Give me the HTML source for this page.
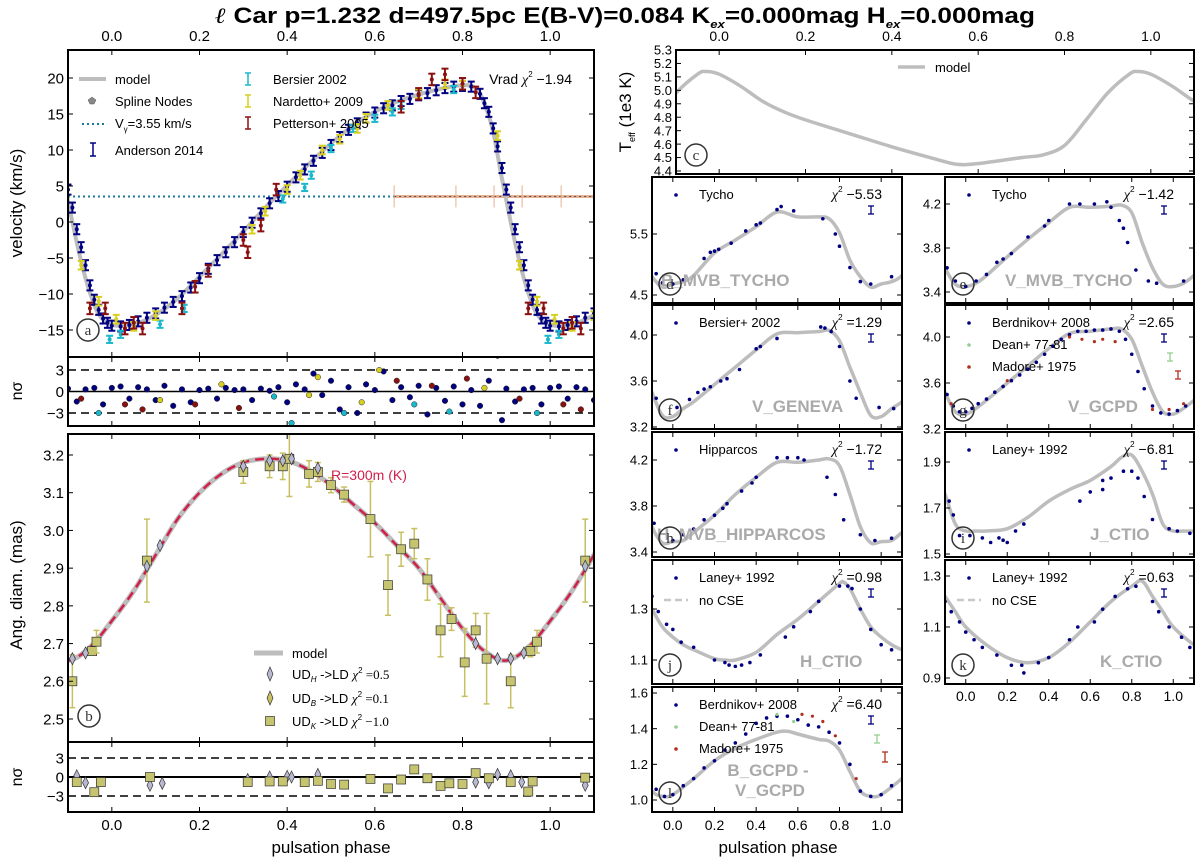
<!DOCTYPE html>
<html><head><meta charset="utf-8">
<style>
html,body{margin:0;padding:0;background:#fff;}
svg{display:block;font-family:"Liberation Sans",sans-serif;}
</style></head>
<body>
<svg id="chart" width="1200" height="863" viewBox="0 0 1200 863" xmlns="http://www.w3.org/2000/svg">
<text x="625" y="23" text-anchor="middle" font-size="22" font-weight="bold" textLength="820" lengthAdjust="spacingAndGlyphs"><tspan font-family="Liberation Serif" font-style="italic">ℓ</tspan> Car p=1.232 d=497.5pc E(B-V)=0.084 K<tspan font-size="11" dy="5" font-style="italic">ex</tspan><tspan dy="-5">=0.000mag H</tspan><tspan font-size="11" dy="5" font-style="italic">ex</tspan><tspan dy="-5">=0.000mag</tspan></text>
</svg>
<script>
// ---------- DATA ----------
const xTickVals=[0,0.2,0.4,0.6,0.8,1.0];
const xTickLabels=['0.0','0.2','0.4','0.6','0.8','1.0'];
const velPhase=[0,0.05,0.1,0.15,0.2,0.25,0.3,0.35,0.4,0.45,0.5,0.55,0.6,0.65,0.7,0.75,0.8,0.83,0.85,0.87,0.89,0.91,0.93,0.95,0.97];
const velModel=[-14.3,-14.2,-12.9,-10.6,-7.6,-4.5,-1.3,2,5.1,8.1,10.9,13.4,15.3,16.7,17.7,18.5,19,18.6,16.5,12.5,6,0,-5.5,-9.8,-12.8];
const andPh=[0.00,0.02,0.04,0.06,0.08,0.10,0.12,0.14,0.16,0.18,0.20,0.22,0.24,0.26,0.28,0.30,0.32,0.34,0.36,0.38,0.40,0.42,0.44,0.46,0.48,0.50,0.52,0.54,0.56,0.58,0.60,0.62,0.64,0.66,0.68,0.70,0.72,0.74,0.76,0.78,0.80,0.82,0.84,0.85,0.86,0.87,0.88,0.89,0.90,0.91,0.92,0.93,0.94,0.95,0.96,0.97,0.98,0.99];
const andV=[-14.4,-14.5,-14.3,-13.8,-13.3,-12.7,-11.9,-11.1,-10.3,-9.1,-7.8,-6.5,-5.3,-4.2,-2.8,-1.4,-0.1,1.2,2.6,3.6,4.9,6.2,7.3,8.5,9.6,10.7,11.8,12.8,13.7,14.5,15.2,15.8,16.2,16.8,17.1,17.6,17.9,18.3,18.6,18.8,18.9,18.8,17.8,16.5,15.3,13,10.5,7.5,4.5,2,-1,-3.5,-6,-8.8,-10.8,-12.2,-13.4,-14];
const bersPh=[0.995,0.02,0.11,0.165,0.39,0.44,0.455,0.5,0.55,0.6,0.64,0.66,0.78];
const bersV=[-16.3,-15.6,-14.2,-12,3.2,4.8,6.5,10.2,13,14.4,15.3,16.2,18.4];
const nardPh=[0.93,0.97,0.01,0.05,0.1,0.32,0.35,0.4,0.43,0.48,0.52,0.56,0.58,0.63,0.7,0.76,0.8,0.88];
const nardV=[-6,-11,-13.5,-14.5,-13,-1,1.5,4.5,6.5,10,11.5,13,14.4,16.2,17.8,19.2,19,12];
const pettPh=[0.985,0.05,0.07,0.16,0.19,0.22,0.3,0.31,0.34,0.375,0.66,0.70,0.73,0.76,0.8,0.83,0.95,0.03];
const pettV=[-12,-14,-14.8,-12,-9,-6.8,-2.5,-4.2,-0.5,4.5,16,17.8,19.8,20.5,19.2,18,-12,-14.8];
const vGamma=[3.55];
const vgPh=[0.644,0.785,0.872,0.936,1.025];
const resPh=[0.0,0.02,0.04,0.06,0.08,0.1,0.12,0.14,0.16,0.18,0.2,0.22,0.24,0.26,0.28,0.3,0.32,0.34,0.36,0.38,0.4,0.42,0.44,0.46,0.48,0.5,0.52,0.54,0.56,0.58,0.6,0.62,0.64,0.66,0.68,0.7,0.72,0.74,0.76,0.78,0.8,0.82,0.84,0.86,0.88,0.9,0.92,0.94,0.96,0.98,0.03,0.07,0.11,0.19,0.25,0.29,0.37,0.41,0.45,0.47,0.53,0.57,0.61,0.65,0.69,0.73,0.77,0.81,0.85,0.89,0.93,0.97];
const resVal=[0.5,0.7,-1,0.6,0.3,-1.2,0.8,-2,0.3,-1.5,0.2,0.4,-1,0.5,0.2,0.3,-1.2,0.4,0.1,0.6,-1.5,1,0.3,2.5,-0.5,1.5,-2.5,0.6,-3,1,0.2,2.8,-1.2,0.6,-0.8,0.8,-3.2,0.5,-1.3,0.7,-1.8,0.2,-2,1.5,5,0.4,-1.4,0.3,0.5,-1.8,-1.8,-2.5,-1.2,-1.8,1,-2.3,-0.7,-4.4,-0.5,2,-3,-1.5,3,1.5,-1.8,0.8,-2.8,1.8,0.5,-4,-1,-3];
const resSrc=[0,0,0,0,0,0,0,0,0,0,0,0,0,0,0,0,0,0,0,0,0,0,0,0,0,0,0,0,0,0,0,0,0,0,0,0,0,0,0,0,0,0,0,0,0,0,0,0,0,0,3,3,2,3,2,3,1,1,2,2,1,2,2,3,1,3,1,3,2,0,3,1];
const diamPhase=[0,0.05,0.1,0.15,0.2,0.25,0.3,0.35,0.4,0.45,0.5,0.55,0.6,0.65,0.7,0.75,0.8,0.85,0.9,0.95];
const diamModel=[2.76,2.84,2.935,3.03,3.1,3.15,3.18,3.19,3.185,3.16,3.12,3.07,3.02,2.96,2.9,2.82,2.74,2.68,2.655,2.69];
const kPh=[-0.09,-0.045,-0.035,0.08,0.3,0.36,0.39,0.45,0.47,0.5,0.53,0.59,0.63,0.66,0.69,0.72,0.75,0.775,0.805,0.83,0.855,0.91,0.955,0.97,1.08,0.405];
const kVal=[2.60,2.68,2.705,2.92,3.155,3.17,3.17,3.15,3.155,3.12,3.095,3.03,2.855,2.95,2.965,2.87,2.735,2.765,2.65,2.735,2.66,2.60,2.68,2.705,2.92,3.19];
const kErr=[0.07,0.01,0.03,0.11,0.03,0.03,0.035,0.035,0.025,0.02,0.02,0.1,0.08,0.045,0.04,0.055,0.07,0.03,0.09,0.045,0.12,0.07,0.015,0.03,0.11,0.1];
const hPh=[-0.09,-0.06,0.08,0.11,0.3,0.36,0.39,0.41,0.47,0.83,0.88,0.91,0.94,1.08];
const hVal=[2.66,2.675,2.905,2.96,3.17,3.185,3.185,3.19,3.165,2.70,2.66,2.66,2.675,2.905];
const rbKPh=[-0.08,-0.04,-0.025,0.087,0.31,0.36,0.39,0.44,0.47,0.5,0.53,0.59,0.63,0.66,0.69,0.72,0.75,0.77,0.8,0.83,0.86,0.91,0.95,0.96,1.08];
const rbKVal=[-0.8,-2.4,-0.8,0,-0.8,-0.7,-0.7,-0.8,-0.6,-1.1,-1.2,-0.3,-1.8,-0.4,1.2,-0.2,-1.4,-1,-1.1,0.6,-0.2,-0.8,-2.3,-0.7,-0.1];
const rbHPh=[-0.08,-0.06,0.087,0.115,0.31,0.36,0.40,0.41,0.47,0.83,0.86,0.88,0.91,0.935,1.08];
const rbHVal=[0.2,-0.9,-1.3,-1,-0.4,0,0.1,0,0.4,-0.8,-0.9,0.4,0.2,-0.8,-1.3];
const teffPhase=[0,0.05,0.1,0.15,0.2,0.3,0.4,0.5,0.55,0.6,0.7,0.75,0.8,0.85,0.9,0.95,0.97];
const teffModel=[5.12,5.03,4.92,4.84,4.78,4.68,4.58,4.49,4.45,4.455,4.5,4.52,4.59,4.78,4.98,5.12,5.14];
const lcPhase=[0,0.05,0.1,0.2,0.3,0.4,0.5,0.6,0.7,0.75,0.8,0.85,0.9,0.95];
const dModel=[4.68,4.72,4.82,5.19,5.4,5.62,5.86,5.78,5.78,5.75,5.52,5.07,4.8,4.63];
const eModel=[3.45,3.48,3.55,3.72,3.88,4.03,4.17,4.17,4.18,4.19,4.12,3.85,3.62,3.47];
const fModel=[3.29,3.36,3.42,3.57,3.72,3.87,4.01,4.02,4.03,4.04,3.95,3.72,3.5,3.3];
const gModel=[3.33,3.38,3.45,3.6,3.75,3.9,4.03,4.05,4.07,4.07,3.98,3.75,3.52,3.35];
const hModel=[3.49,3.5,3.57,3.72,3.9,4.05,4.18,4.18,4.2,4.21,4.15,3.9,3.62,3.48];
const iModel=[1.6,1.6,1.6,1.61,1.66,1.73,1.78,1.82,1.88,1.92,1.93,1.86,1.76,1.63];
const jPhase=[0,0.05,0.1,0.2,0.25,0.3,0.4,0.5,0.6,0.7,0.8,0.82,0.85,0.9,0.95];
const jModel=[1.19,1.16,1.14,1.105,1.1,1.1,1.13,1.2,1.26,1.33,1.4,1.405,1.38,1.3,1.23];
const kPhase=[0,0.1,0.2,0.3,0.4,0.5,0.6,0.7,0.8,0.85,0.9,0.95];
const kModel=[1.1,1.03,0.98,0.96,0.98,1.04,1.12,1.2,1.26,1.28,1.22,1.16];
const lPhase=[0,0.1,0.2,0.3,0.4,0.5,0.55,0.6,0.7,0.75,0.8,0.85,0.9,0.95];
const lModel=[1.03,1.12,1.22,1.29,1.34,1.38,1.385,1.37,1.34,1.33,1.28,1.16,1.05,1.02];
const dObsPh=[-0.08,-0.05,0.0,0.05,0.15,0.18,0.2,0.22,0.28,0.35,0.4,0.42,0.5,0.52,0.58,0.72,0.78,0.8,0.85,0.9,0.95,1.05];
const dObsV=[4.85,4.7,4.68,4.75,5.1,5.2,5.22,5.25,5.35,5.55,5.65,5.68,5.9,5.95,5.88,5.75,5.5,5.3,4.95,4.72,4.68,4.8];
const eObsPh=[-0.09,-0.05,0.0,0.05,0.1,0.15,0.18,0.22,0.3,0.38,0.4,0.5,0.55,0.62,0.68,0.7,0.74,0.76,0.78,0.82,0.88,0.92,1.05];
const eObsV=[3.62,3.5,3.45,3.5,3.56,3.67,3.7,3.75,3.9,4.0,4.05,4.2,4.2,4.2,4.22,4.17,4.05,3.98,3.85,3.6,3.5,3.48,3.5];
const fObsPh=[-0.08,0.02,0.08,0.12,0.15,0.18,0.23,0.26,0.32,0.4,0.42,0.5,0.71,0.73,0.76,0.8,0.85,0.88,0.99,1.06];
const fObsV=[3.45,3.37,3.44,3.5,3.53,3.55,3.6,3.62,3.7,3.88,3.9,3.97,4.07,4.06,4.03,3.9,3.6,3.45,3.37,3.36];
const gObsPh=[-0.09,-0.06,-0.03,0,0.03,0.06,0.1,0.14,0.18,0.22,0.26,0.3,0.34,0.38,0.42,0.46,0.5,0.54,0.58,0.62,0.66,0.7,0.74,0.77,0.8,0.83,0.86,0.9,0.94,0.98,1.02,1.06];
const gObsV=[3.5,3.4,3.35,3.35,3.38,3.42,3.46,3.52,3.57,3.62,3.67,3.72,3.78,3.85,3.92,3.98,4.02,4.05,4.05,4.06,4.06,4.07,4.05,3.98,3.85,3.7,3.55,3.4,3.34,3.33,3.36,3.4];
const gRedPh=[-0.07,0.2,0.5,0.56,0.62,0.66,0.72,0.9,0.98,1.05];
const gRedV=[3.42,3.62,4.0,3.98,3.96,3.98,3.96,3.37,3.37,3.42];
const hObsPh=[-0.09,0.0,0.05,0.1,0.15,0.2,0.24,0.26,0.33,0.38,0.4,0.5,0.55,0.6,0.63,0.74,0.78,0.82,0.9,0.97,1.05];
const hObsV=[3.65,3.5,3.55,3.6,3.68,3.72,3.78,3.82,3.93,4.0,4.05,4.22,4.22,4.22,4.2,4.05,3.9,3.68,3.55,3.5,3.52];
const iObsPh=[-0.08,-0.06,-0.03,0.02,0.08,0.12,0.16,0.18,0.2,0.24,0.28,0.55,0.6,0.66,0.66,0.7,0.76,0.8,0.83,0.86,0.9,0.98,1.02,1.08];
const iObsV=[1.73,1.67,1.58,1.58,1.57,1.55,1.57,1.56,1.55,1.6,1.63,1.73,1.77,1.78,1.82,1.83,1.86,1.86,1.83,1.75,1.65,1.61,1.6,1.59];
const jObsPh=[-0.1,-0.07,-0.03,0,0.04,0.1,0.2,0.25,0.27,0.3,0.33,0.37,0.42,0.54,0.58,0.66,0.7,0.8,0.84,0.86,0.9,0.95,1.0,1.05];
const jObsV=[1.35,1.29,1.24,1.22,1.17,1.15,1.1,1.09,1.08,1.075,1.08,1.09,1.12,1.19,1.23,1.29,1.33,1.39,1.39,1.38,1.3,1.22,1.16,1.14];
const kObsPh=[-0.1,-0.07,-0.03,0,0.04,0.08,0.15,0.22,0.27,0.28,0.35,0.4,0.5,0.54,0.62,0.66,0.72,0.78,0.82,0.9,0.93,0.98,1.04,1.08];
const kObsV=[1.2,1.16,1.12,1.08,1.05,1.02,0.99,0.95,0.95,0.92,0.96,0.98,1.05,1.1,1.12,1.17,1.22,1.25,1.26,1.2,1.16,1.1,1.06,1.02];
const lObsPh=[-0.08,-0.04,0.0,0.05,0.1,0.15,0.2,0.25,0.3,0.35,0.4,0.45,0.5,0.55,0.6,0.65,0.7,0.75,0.8,0.85,0.9,0.95,1.0,1.05];
const lObsV=[1.06,1.02,1.03,1.08,1.12,1.18,1.22,1.28,1.32,1.37,1.43,1.46,1.47,1.47,1.45,1.42,1.41,1.38,1.32,1.2,1.05,1.02,1.03,1.08];
const lRedPh=[0.62,0.67,0.72,0.78,0.88];
const lRedV=[1.48,1.47,1.44,1.36,1.12];
const lGreenPh=[0.5,0.58];
const lGreenV=[1.48,1.44];

// ---------- DRAWING ----------
const NS='http://www.w3.org/2000/svg';
const root=document.getElementById('chart');
function el(tag,attrs,parent){const e=document.createElementNS(NS,tag);for(const k in attrs)e.setAttribute(k,attrs[k]);(parent||root).appendChild(e);return e;}
function txt(s,attrs,parent){const t=el('text',attrs,parent);t.textContent=s;return t;}
const NAVY='#000080',CYAN='#1ab8cc',YEL='#d8d020',DRED='#8b1010',GREY='#bdbdbd';
const srcCol=[NAVY,CYAN,YEL,DRED];

function makePanel(name,x0,x1,y0,y1,vA,yA,vB,yB){
  const g=el('g',{});
  
  
  const id='clip-'+name;
  const cp=el('clipPath',{id:id},g);
  el('rect',{x:x0,y:y0,width:x1-x0,height:y1-y0},cp);
  const inner=el('g',{'clip-path':'url(#'+id+')'},g);
  return {g,inner,x0,x1,y0,y1,
    sx:p=>x0+(p+0.1)/1.2*(x1-x0),
    sy:v=>yA+(v-vA)*(yB-yA)/(vB-vA)};
}
function frame(P){
  const r=el('rect',{x:P.x0,y:P.y0,width:P.x1-P.x0,height:P.y1-P.y0,fill:'none',stroke:'#000','stroke-width':2},P.g);
  
  
}
function xticks(P,labelY,fs){
  xTickVals.forEach((t,i)=>{
    const x=P.sx(t);
    el('line',{x1:x,x2:x,y1:P.y1,y2:P.y1-5,stroke:'#000','stroke-width':1},P.g);
    el('line',{x1:x,x2:x,y1:P.y0,y2:P.y0+5,stroke:'#000','stroke-width':1},P.g);
    if(labelY){
      const t2=txt(xTickLabels[i],{x:x,y:labelY,'text-anchor':'middle','font-size':fs},P.g);
      
      
    }
  });
}
function yticks(P,vals,labels,fs){
  vals.forEach((v,i)=>{
    const y=P.sy(v);
    el('line',{x1:P.x0,x2:P.x0+5,y1:y,y2:y,stroke:'#000','stroke-width':1},P.g);
    el('line',{x1:P.x1,x2:P.x1-5,y1:y,y2:y,stroke:'#000','stroke-width':1},P.g);
    const t=txt(labels[i],{x:P.x0-4,y:y+fs*0.36,'text-anchor':'end','font-size':fs},P.g);
    
    
  });
}
function wrapPts(ph,vals){
  const pts=[];
  for(let k=-1;k<=1;k++)for(let i=0;i<ph.length;i++){const p=ph[i]+k;if(p>=-0.3&&p<=1.3)pts.push([p,vals[i]]);}
  pts.sort((a,b)=>a[0]-b[0]);return pts;
}
function model(P,ph,vals,color,w,dash,name){
  const pts=wrapPts(ph,vals).map(q=>[P.sx(q[0]),P.sy(q[1])]);
  let d='M'+pts[0][0].toFixed(1)+','+pts[0][1].toFixed(1);
  for(let i=0;i<pts.length-1;i++){
    const p0=pts[Math.max(0,i-1)],p1=pts[i],p2=pts[i+1],p3=pts[Math.min(pts.length-1,i+2)];
    const c1=[p1[0]+(p2[0]-p0[0])/6,p1[1]+(p2[1]-p0[1])/6];
    const c2=[p2[0]-(p3[0]-p1[0])/6,p2[1]-(p3[1]-p1[1])/6];
    d+=' C'+c1[0].toFixed(1)+','+c1[1].toFixed(1)+' '+c2[0].toFixed(1)+','+c2[1].toFixed(1)+' '+p2[0].toFixed(1)+','+p2[1].toFixed(1);
  }
  const a={d:d,fill:'none',stroke:color,'stroke-width':w,'stroke-linejoin':'round'};
  if(dash)a['stroke-dasharray']=dash;
  const p=el('path',a,P.inner);
  
  
}
function dots(P,ph,vals,color,r,name){
  ph.forEach((p,i)=>{
    const c=el('circle',{cx:P.sx(p),cy:P.sy(vals[i]),r:r,fill:color},P.inner);
    
    
  });
}
function errPts(P,ph,vals,err,color,name){
  wrapPts(ph,vals).forEach(q=>{
    const x=P.sx(q[0]),y1=P.sy(q[1]-err),y2=P.sy(q[1]+err);
    const g=el('g',{stroke:color,'stroke-width':2},P.inner);
    
    
    el('line',{x1:x,x2:x,y1:y1,y2:y2},g);
    el('line',{x1:x-3.5,x2:x+3.5,y1:y1,y2:y1},g);
    el('line',{x1:x-3.5,x2:x+3.5,y1:y2,y2:y2},g);
    el('circle',{cx:x,cy:P.sy(q[1]),r:2,fill:color,stroke:'none'},g);
  });
}
function letter(P,x,y,s){
  const g=el('g',{},P.g);
  
  
  el('circle',{cx:x,cy:y,r:11,fill:'none',stroke:'#333','stroke-width':1.5},g);
  txt(s,{x:x,y:y+5,'text-anchor':'middle','font-size':15,'font-family':'Liberation Serif, serif',fill:'#333'},g);
}
function ylabel(s,x,y,fs,name){
  const t=txt(s,{x:x,y:y,'text-anchor':'middle','font-size':fs,transform:'rotate(-90 '+x+' '+y+')'});
  
  
  return t;
}
function chi(P,x,y,val,fs){
  const t=el('text',{x:x,y:y,'text-anchor':'end','font-size':fs},P.g);
  
  
  const a=el('tspan',{'font-family':'Liberation Serif, serif','font-style':'italic'},t);a.textContent='χ';
  const b=el('tspan',{'font-size':fs*0.6,dy:-7},t);b.textContent='2';
  const c=el('tspan',{dy:7},t);c.textContent=' '+val;
}
function legendDot(P,x,y,color,label,fs){
  const c=el('circle',{cx:x,cy:y-4,r:1.8,fill:color},P.g);
  
  
  const t=txt(label,{x:x+23,y:y,'font-size':fs},P.g);
  
  
}
function filterName(P,x,y,s,anchor){
  const t=txt(s,{x:x,y:y,'font-size':17,'font-weight':'bold',fill:'#aaaaaa','text-anchor':anchor||'start'},P.g);
  
  
}
function errMark(P,x,y,h,color){
  const g=el('g',{stroke:color,'stroke-width':1.3},P.g);
  
  
  el('line',{x1:x,x2:x,y1:y-h,y2:y+h},g);
  el('line',{x1:x-3,x2:x+3,y1:y-h,y2:y-h},g);
  el('line',{x1:x-3,x2:x+3,y1:y+h,y2:y+h},g);
}

// ---- Panel a: velocity ----
const A=makePanel('velocity-panel',68,594,50,357,20,78,-15,330);
{
  const y=A.sy(vGamma[0]);
  const l1=el('line',{x1:A.x0,x2:A.sx(vgPh[0]),y1:y,y2:y,stroke:'#1a7a9a','stroke-width':2,'stroke-dasharray':'2,3'},A.inner);
  
  
  const l2=el('line',{x1:A.sx(vgPh[0]),x2:A.x1,y1:y,y2:y,stroke:'#e8b090','stroke-width':3},A.inner);
  
  
  el('line',{x1:A.sx(vgPh[0]),x2:A.x1,y1:y,y2:y,stroke:'#555','stroke-width':1,'stroke-dasharray':'2,3'},A.inner);
  vgPh.forEach(p=>{const m=el('line',{x1:A.sx(p),x2:A.sx(p),y1:y-11,y2:y+11,stroke:'#e8b090','stroke-width':1},A.inner);
    
    });
}
model(A,velPhase,velModel,GREY,4,null,'velocity-model');
errPts(A,andPh,andV,0.7,NAVY,'anderson-point');
errPts(A,bersPh,bersV,0.5,CYAN,'bersier-point');
errPts(A,nardPh,nardV,0.6,YEL,'nardetto-point');
errPts(A,pettPh,pettV,0.8,DRED,'petterson-point');
frame(A);xticks(A,41,15);
yticks(A,[20,15,10,5,0,-5,-10,-15],['20','15','10','5','0','−5','−10','−15'],15);
letter(A,88,330,'a');
ylabel('velocity (km/s)',22,203,17,'velocity-axis-title');
{
  const L=el('g',{},A.g);
  
  
  el('line',{x1:79,x2:106,y1:79,y2:79,stroke:GREY,'stroke-width':4},L);
  txt('model',{x:115,y:84,'font-size':13},L);
  el('polygon',{points:'92,97 96,100 94,104 90,104 88,100',fill:'#888',stroke:'#555','stroke-width':0.5},L);
  txt('Spline Nodes',{x:115,y:106,'font-size':13},L);
  el('line',{x1:82,x2:104,y1:124,y2:124,stroke:'#1a7a9a','stroke-width':2,'stroke-dasharray':'2,3'},L);
  const vg=txt('',{x:115,y:128,'font-size':13},L);
  vg.innerHTML='V<tspan font-size="8" dy="4">γ</tspan><tspan dy="-4">=3.55 km/s</tspan>';
  el('line',{x1:93,x2:93,y1:143,y2:156,stroke:NAVY,'stroke-width':1.5},L);
  el('line',{x1:90,x2:96,y1:143,y2:143,stroke:NAVY,'stroke-width':1.5},L);
  el('line',{x1:90,x2:96,y1:156,y2:156,stroke:NAVY,'stroke-width':1.5},L);
  txt('Anderson 2014',{x:115,y:155,'font-size':13},L);
  [[CYAN,79,'Bersier 2002'],[YEL,101,'Nardetto+ 2009'],[DRED,123,'Petterson+ 2005']].forEach(e=>{
    el('line',{x1:248,x2:248,y1:e[1]-6,y2:e[1]+6,stroke:e[0],'stroke-width':1.5},L);
    el('line',{x1:245,x2:251,y1:e[1]-6,y2:e[1]-6,stroke:e[0],'stroke-width':1.5},L);
    el('line',{x1:245,x2:251,y1:e[1]+6,y2:e[1]+6,stroke:e[0],'stroke-width':1.5},L);
    txt(e[2],{x:273,y:e[1]+5,'font-size':13},L);
  });
}
{
  const t=el('text',{x:572,y:84,'text-anchor':'end','font-size':14},A.g);
  
  
  t.innerHTML='Vrad <tspan font-family="Liberation Serif" font-style="italic">χ</tspan><tspan font-size="8" dy="-7">2</tspan><tspan dy="7"> −1.94</tspan>';
}

// ---- residual a ----
const RA=makePanel('velocity-residual-panel',68,594,357,426,3,370,-3,413);
[3,-3].forEach(v=>el('line',{x1:RA.x0,x2:RA.x1,y1:RA.sy(v),y2:RA.sy(v),stroke:'#000','stroke-width':1.5,'stroke-dasharray':'8,5'},RA.inner));
el('line',{x1:RA.x0,x2:RA.x1,y1:RA.sy(0),y2:RA.sy(0),stroke:'#000','stroke-width':1.5},RA.inner);
{
  const pts=[];
  for(let k=-1;k<=1;k++)resPh.forEach((p,i)=>{const q=p+k;if(q>=-0.12&&q<=1.12)pts.push([q,resVal[i],resSrc[i]]);});
  pts.forEach(q=>{const c=el('circle',{cx:RA.sx(q[0]),cy:RA.sy(q[1]),r:2.8,fill:srcCol[q[2]],stroke:'#222','stroke-width':0.5},RA.inner);
    
    });
}
frame(RA);xticks(RA,null,15);
yticks(RA,[3,0,-3],['3','0','−3'],15);
ylabel('nσ',22,391,16,'residual-axis-title');

// ---- panel b: angular diameter ----
const B=makePanel('diameter-panel',68,594,434,742,3.2,455,2.5,719);
model(B,diamPhase,diamModel,GREY,5,null,'diameter-model');
model(B,diamPhase,diamModel,'#d0204a',2.5,'9,6','diameter-model-ld');
kPh.forEach((p,i)=>{
  const x=B.sx(p),y=B.sy(kVal[i]);
  const g=el('g',{},B.inner);
  
  
  el('line',{x1:x,x2:x,y1:B.sy(kVal[i]-kErr[i]),y2:B.sy(kVal[i]+kErr[i]),stroke:'#c8c060','stroke-width':1.5},g);
  el('line',{x1:x-3,x2:x+3,y1:B.sy(kVal[i]-kErr[i]),y2:B.sy(kVal[i]-kErr[i]),stroke:'#c8c060','stroke-width':1.5},g);
  el('line',{x1:x-3,x2:x+3,y1:B.sy(kVal[i]+kErr[i]),y2:B.sy(kVal[i]+kErr[i]),stroke:'#c8c060','stroke-width':1.5},g);
  el('rect',{x:x-4.5,y:y-4.5,width:9,height:9,fill:'#c6c46e',stroke:'#333','stroke-width':0.7},g);
});
hPh.forEach((p,i)=>{
  const x=B.sx(p),y=B.sy(hVal[i]);
  const d=el('polygon',{points:`${x},${y-6} ${x+3},${y} ${x},${y+6} ${x-3},${y}`,fill:'#b8b8d0',stroke:'#333','stroke-width':0.7},B.inner);
  
  
});
frame(B);xticks(B,null,15);
yticks(B,[3.2,3.1,3.0,2.9,2.8,2.7,2.6,2.5],['3.2','3.1','3.0','2.9','2.8','2.7','2.6','2.5'],15);
letter(B,89,716,'b');
{
  const t=txt('R=300m (K)',{x:331,y:480,'font-size':14,fill:'#d0204a'},B.g);
  
  
}
ylabel('Ang. diam. (mas)',22,585,17,'diameter-axis-title');
{
  const L=el('g',{},B.g);
  
  
  el('line',{x1:254,x2:283,y1:653,y2:653,stroke:GREY,'stroke-width':5},L);
  txt('model',{x:292,y:658,'font-size':13},L);
  el('polygon',{points:'270,667 273,674 270,681 267,674',fill:'#b8b8d0',stroke:'#333','stroke-width':0.7},L);
  el('polygon',{points:'270,691 273,698 270,705 267,698',fill:'#c8c060',stroke:'#333','stroke-width':0.7},L);
  el('rect',{x:265.5,y:716.5,width:9,height:9,fill:'#c6c46e',stroke:'#333','stroke-width':0.7},L);
  [['H',679,'=0.5'],['B',703,'=0.1'],['K',726,'−1.0']].forEach(e=>{
    const t=el('text',{x:292,y:e[1],'font-size':13},L);
    t.innerHTML='UD<tspan font-size="8" dy="3" font-style="italic">'+e[0]+'</tspan><tspan dy="-3"> -&gt;LD </tspan><tspan font-family="Liberation Serif" font-style="italic">χ</tspan><tspan font-size="8" dy="-6">2</tspan><tspan dy="6" font-family="Liberation Serif"> '+e[2]+'</tspan>';
  });
}

// ---- residual b ----
const RB=makePanel('diameter-residual-panel',68,594,742,812,3,758,-3,796);
[3,-3].forEach(v=>el('line',{x1:RB.x0,x2:RB.x1,y1:RB.sy(v),y2:RB.sy(v),stroke:'#000','stroke-width':1.5,'stroke-dasharray':'8,5'},RB.inner));
el('line',{x1:RB.x0,x2:RB.x1,y1:RB.sy(0),y2:RB.sy(0),stroke:'#000','stroke-width':2},RB.inner);
rbHPh.forEach((p,i)=>{const x=RB.sx(p),y=RB.sy(rbHVal[i]);
  const d=el('polygon',{points:`${x},${y-6} ${x+3},${y} ${x},${y+6} ${x-3},${y}`,fill:'#b8b8d0',stroke:'#333','stroke-width':0.7},RB.inner);
  
  });
rbKPh.forEach((p,i)=>{const x=RB.sx(p),y=RB.sy(rbKVal[i]);
  const r=el('rect',{x:x-4.5,y:y-4.5,width:9,height:9,fill:'#c6c46e',stroke:'#333','stroke-width':0.7},RB.inner);
  
  });
frame(RB);xticks(RB,830,15);
yticks(RB,[3,0,-3],['3','0','−3'],15);
ylabel('nσ',22,777,16,'residual-b-axis-title');
{const t=txt('pulsation phase',{x:331,y:853,'text-anchor':'middle','font-size':17});
 
 }

// ---- panel c: Teff ----
const C=makePanel('teff-panel',676,1194,50,174,5.3,50,4.4,171);
model(C,teffPhase,teffModel,GREY,3.5,null,'teff-model');
frame(C);xticks(C,41,14);
yticks(C,[5.3,5.2,5.1,5.0,4.9,4.8,4.7,4.6,4.5,4.4],['5.3','5.2','5.1','5.0','4.9','4.8','4.7','4.6','4.5','4.4'],13);
letter(C,696,155,'c');
{
  el('line',{x1:898,x2:925,y1:67,y2:67,stroke:GREY,'stroke-width':3.5},C.g);
  const t=txt('model',{x:935,y:72,'font-size':13},C.g);
  
  
  const yl=ylabel('',631,112,17,'teff-axis-title');
  yl.innerHTML='T<tspan font-size="9" dy="4">eff</tspan><tspan dy="-4"> (1e3 K)</tspan>';
}

// ---- small photometry panels ----
function photo(name,x0,x1,y0,y1,tv,tl,vA,yA,vB,yB,ph,mod,obsP,obsV,leg,chiVal,filt,fx,fy,fanchor,let_,labelY){
  const P=makePanel(name,x0,x1,y0,y1,vA,yA,vB,yB);
  model(P,ph,mod,GREY,3.5,null,name+'-model');
  dots(P,obsP,obsV,NAVY,1.8,name+'-obs');
  frame(P);xticks(P,labelY,14);
  yticks(P,tv,tl,13);
  legendDot(P,x0+24,y0+22,NAVY,leg,13);
  chi(P,x1-20,y0+22,chiVal,14);
  errMark(P,x0+219,y0+33,4,NAVY);
  filterName(P,fx,fy||(y1-17),filt,fanchor);
  letter(P,x0+18,y1-19,let_);
  return P;
}
const L0=652,L1=902,R0=945,R1=1194;
photo('tycho-b-panel',L0,L1,177,303,[5.5,4.5],['5.5','4.5'],5.5,234,4.5,295,lcPhase,dModel,dObsPh,dObsV,'Tycho','−5.53','B_MVB_TYCHO',661,0,'start','d',null);
photo('tycho-v-panel',R0,R1,177,303,[4.2,3.8,3.4],['4.2','3.8','3.4'],4.2,204,3.8,248,lcPhase,eModel,eObsPh,eObsV,'Tycho','−1.42','V_MVB_TYCHO',1005,0,'start','e',null);
photo('geneva-v-panel',L0,L1,305,429,[4.0,3.6,3.2],['4.0','3.6','3.2'],4.0,335,3.6,381,lcPhase,fModel,fObsPh,fObsV,'Bersier+ 2002','=1.29','V_GENEVA',752,0,'start','f',null);
const G=photo('gcpd-v-panel',R0,R1,305,429,[4.0,3.6,3.2],['4.0','3.6','3.2'],4.0,337,3.6,383,lcPhase,gModel,gObsPh,gObsV,'Berdnikov+ 2008','=2.65','V_GCPD',1068,0,'start','g',null);
dots(G,gRedPh,gRedV,'#b03020',1.6,'gcpd-v-madore-obs');
legendDot(G,R0+24,G.y0+44,'#90d090','Dean+ 77-81',13);
legendDot(G,R0+24,G.y0+66,'#b03020','Madore+ 1975',13);
errMark(G,R0+225,G.y0+52,4,'#90d090');errMark(G,R0+233,G.y0+70,4,'#b03020');
photo('hipparcos-panel',L0,L1,432,557,[4.2,3.8,3.4],['4.2','3.8','3.4'],4.2,460,3.8,506,lcPhase,hModel,hObsPh,hObsV,'Hipparcos','−1.72','H_MVB_HIPPARCOS',657,0,'start','h',null);
photo('j-ctio-panel',R0,R1,432,557,[1.9,1.7,1.5],['1.9','1.7','1.5'],1.9,462,1.7,508,lcPhase,iModel,iObsPh,iObsV,'Laney+ 1992','−6.81','J_CTIO',1090,0,'start','i',null);
const J=photo('h-ctio-panel',L0,L1,560,684,[1.3,1.1],['1.3','1.1'],1.3,609,1.1,660,jPhase,jModel,jObsPh,jObsV,'Laney+ 1992','=0.98','H_CTIO',800,0,'start','j',null);
const K=photo('k-ctio-panel',R0,R1,560,684,[1.3,1.1,0.9],['1.3','1.1','0.9'],1.3,576,1.1,627,kPhase,kModel,kObsPh,kObsV,'Laney+ 1992','=0.63','K_CTIO',1100,0,'start','k',701);
[J,K].forEach(P=>{el('line',{x1:P.x0+12,x2:P.x0+36,y1:P.y0+40,y2:P.y0+40,stroke:'#c8c8c8','stroke-width':2.5,'stroke-dasharray':'7,4'},P.g);
  const t=txt('no CSE',{x:P.x0+47,y:P.y0+45,'font-size':13},P.g);
  
  });
const Lp=photo('b-v-panel',L0,L1,687,812,[1.6,1.4,1.2,1.0],['1.6','1.4','1.2','1.0'],1.6,693,1.0,800,lPhase,lModel,lObsPh,lObsV,'Berdnikov+ 2008','=6.40','B_GCPD -',768,776,'middle','l',830);
dots(Lp,lRedPh,lRedV,'#b03020',1.6,'b-v-madore-obs');
dots(Lp,lGreenPh,lGreenV,'#90d090',1.6,'b-v-dean-obs');
legendDot(Lp,L0+24,Lp.y0+44,'#90d090','Dean+ 77-81',13);
legendDot(Lp,L0+24,Lp.y0+66,'#b03020','Madore+ 1975',13);
errMark(Lp,L0+225,Lp.y0+52,4,'#90d090');errMark(Lp,L0+233,Lp.y0+70,5,'#b03020');
filterName(Lp,770,796,'V_GCPD','middle');
{const t=txt('pulsation phase',{x:778,y:853,'text-anchor':'middle','font-size':17});
 
 }
</script>
</body></html>
